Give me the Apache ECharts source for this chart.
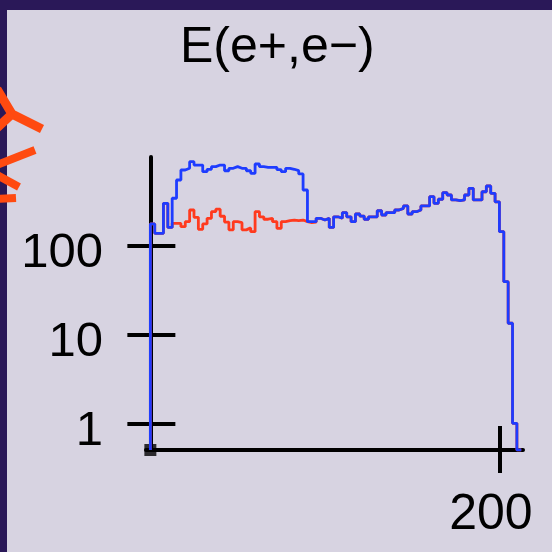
<!DOCTYPE html>
<html>
<head>
<meta charset="utf-8">
<script src="https://cdn.jsdelivr.net/npm/echarts@6/dist/echarts.min.js"></script>
<style>
html,body{margin:0;padding:0;background:#d7d3e1;}
#c{width:552px;height:552px;}
</style>
</head>
<body>
<div id="c"></div>
<script>
// ---- data ----
const titleText = 'E(e+,e\u2212)';
const binWidth = 2.5;            // bin width in x units, first bin starts at 0
const yMin = 0.5, yMax = 1000;   // log axis range
const xMin = -2.5, xMax = 213.5;
const yTickValues = [1, 10, 100];
const xTickValues = [200];

// blue histogram (85 bins)
const blueCounts = [
  176, 138, 138, 301, 161, 343, 551, 714, 746, 885,
  812, 812, 683, 727, 778, 812, 812, 700, 746, 780,
  746, 746, 700, 655, 834, 778, 766, 766, 766, 720,
  683, 746, 727, 701, 644, 425, 187, 187, 204, 195,
  204, 161, 212, 204, 236, 212, 187, 228, 216, 199,
  212, 212, 248, 222, 236, 236, 253, 264, 281, 228,
  242, 253, 281, 281, 357, 301, 334, 396, 373, 328,
  322, 328, 373, 444, 328, 328, 406, 471, 390, 313,
  144, 39.4, 13.4, 1.0, 0.5
];
// red histogram (85 bins)
const redCounts = [
  176, 138, 138, 301, 161, 179, 179, 164, 187, 253,
  209, 153, 176, 204, 242, 258, 215, 185, 151, 187,
  182, 151, 159, 144, 242, 212, 199, 204, 187, 157,
  187, 192, 195, 192, 195, 187, 182, 185, 204, 195,
  204, 161, 212, 204, 236, 212, 187, 228, 216, 199,
  212, 212, 248, 222, 236, 236, 253, 264, 281, 228,
  242, 253, 281, 281, 357, 301, 334, 396, 373, 328,
  322, 328, 373, 444, 328, 328, 406, 471, 390, 313,
  144, 39.4, 13.4, 1.0, 0.5
];

function stepPoints(vals) {
  const pts = [[0, yMin]];
  vals.forEach((v, i) => pts.push([i * binWidth, v]));
  pts.push([vals.length * binWidth, vals[vals.length - 1]]);
  return pts;
}

const FONT = 'Liberation Sans';
const ORANGE = '#ff4a10';
const chart = echarts.init(document.getElementById('c'), null, {renderer: 'canvas'});

const baseY = {
  type: 'log', logBase: 10, min: yMin, max: yMax, position: 'left',
  splitLine: {show: false}, minorTick: {show: false}
};
const baseX = {
  type: 'value', min: xMin, max: xMax, position: 'bottom',
  splitLine: {show: false}
};

chart.setOption({
  backgroundColor: '#d7d3e1',
  animation: false,
  title: {
    text: titleText, left: 180, top: 23, padding: 0,
    textStyle: {fontFamily: FONT, fontSize: 50, fontWeight: 'normal', color: '#000'}
  },
  graphic: [
    {type: 'rect', shape: {x: 0, y: 0, width: 552, height: 10}, style: {fill: '#2a1858'}, z: 0},
    {type: 'rect', shape: {x: 0, y: 0, width: 7, height: 552}, style: {fill: '#2a1858'}, z: 0},
    {type: 'polyline', shape: {points: [[-3, 89], [12, 114], [42, 129]]}, style: {stroke: ORANGE, lineWidth: 9, fill: null, lineJoin: 'miter'}, z: 1},
    {type: 'line', shape: {x1: -3, y1: 128, x2: 12, y2: 114}, style: {stroke: ORANGE, lineWidth: 9}, z: 1},
    {type: 'line', shape: {x1: -3, y1: 165, x2: 35, y2: 150}, style: {stroke: ORANGE, lineWidth: 8}, z: 1},
    {type: 'line', shape: {x1: -3, y1: 175, x2: 19, y2: 187}, style: {stroke: ORANGE, lineWidth: 8}, z: 1},
    {type: 'line', shape: {x1: -3, y1: 199, x2: 16, y2: 198}, style: {stroke: ORANGE, lineWidth: 8}, z: 1}
  ],
  grid: {left: 146, right: 29, top: 157, bottom: 102, containLabel: false},
  xAxis: [
    Object.assign({}, baseX, {
      axisLine: {show: true, onZero: false, lineStyle: {color: '#000', width: 4}},
      axisTick: {show: true, inside: false, length: 23, customValues: xTickValues, lineStyle: {color: '#000', width: 4}},
      axisLabel: {show: true, customValues: xTickValues, margin: 40, padding: [0, 17, 0, 0],
        fontFamily: FONT, fontSize: 50, color: '#000'}
    }),
    Object.assign({}, baseX, {
      axisLine: {show: false, onZero: false},
      axisTick: {show: true, inside: true, length: 24, customValues: xTickValues, lineStyle: {color: '#000', width: 4}},
      axisLabel: {show: false}
    })
  ],
  yAxis: [
    Object.assign({}, baseY, {
      axisLine: {show: true, onZero: true, lineStyle: {color: '#000', width: 4}},
      axisTick: {show: true, inside: false, length: 23, customValues: yTickValues, lineStyle: {color: '#000', width: 4}},
      axisLabel: {show: true, customValues: yTickValues, margin: 43, verticalAlign: 'top', lineHeight: 16,
        fontFamily: FONT, fontSize: 49, color: '#000'}
    }),
    Object.assign({}, baseY, {
      axisLine: {show: false, onZero: true},
      axisTick: {show: true, inside: true, length: 25, customValues: yTickValues, lineStyle: {color: '#000', width: 4}},
      axisLabel: {show: false}
    })
  ],
  series: [
    {
      type: 'scatter', xAxisIndex: 0, yAxisIndex: 0,
      data: [[0, yMin]], symbol: 'rect', symbolSize: 12,
      itemStyle: {color: '#000'}, silent: true
    },
    {
      type: 'line', name: 'red', step: 'end', xAxisIndex: 0, yAxisIndex: 0,
      data: stepPoints(redCounts), showSymbol: false, symbol: 'none',
      lineStyle: {color: '#ff3a1e', width: 2.8}
    },
    {
      type: 'line', name: 'blue', step: 'end', xAxisIndex: 0, yAxisIndex: 0,
      data: stepPoints(blueCounts), showSymbol: false, symbol: 'none',
      lineStyle: {color: '#1e3cff', width: 2.8}
    }
  ]
});
</script>
</body>
</html>
